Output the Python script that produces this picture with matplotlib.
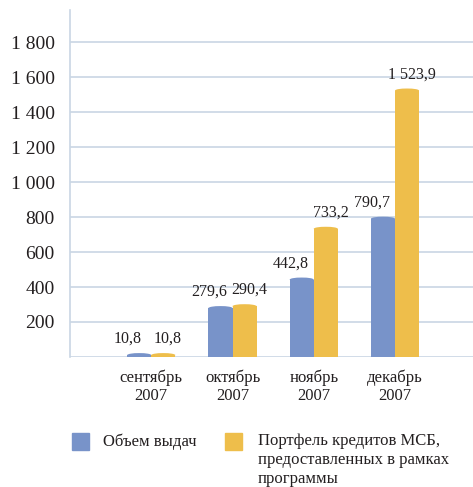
import numpy as np
import matplotlib
matplotlib.use("Agg")
import matplotlib.pyplot as plt
from matplotlib.patches import Ellipse, Rectangle

# ── DATA ────────────────────────────────────────────────────────────────────
months    = ["сентябрь\n2007", "октябрь\n2007", "ноябрь\n2007", "декабрь\n2007"]
issued    = [10.8, 279.6, 442.8, 790.7]         # Объем выдач
portfolio = [10.8, 290.4, 733.2, 1523.9]        # Портфель кредитов МСБ
yticks    = [200, 400, 600, 800, 1000, 1200, 1400, 1600, 1800]

BLUE   = "#7893C9"
YELLOW = "#EEBE4B"
GRID   = "#C9D6E4"
TXT    = "#231F20"

plt.rcParams["font.family"] = ["Liberation Serif", "DejaVu Serif"]

def fmt(v):
    return f"{v:,.1f}".replace(",", " ").replace(".", ",")

# ── PLOT ────────────────────────────────────────────────────────────────────
fig = plt.figure(figsize=(4.73, 4.87), dpi=100)
ax = fig.add_axes([0.148, 0.267, 0.852, 0.712])

x = np.arange(len(months))
w = 0.296
px = 200 / 35.0          # data units per pixel (y)

for vals, off, col, dx in [(issued, -w / 2, BLUE, -8), (portfolio, w / 2, YELLOW, 3.5)]:
    ax.bar(x + off, vals, width=w, color=col, zorder=3)
    for xi, v in zip(x + off, vals):
        ax.add_patch(Ellipse((xi, v), w, 4 * px, color=col, zorder=3, lw=0))
        ax.annotate(fmt(v), (xi, v), xytext=(dx, 6), textcoords="offset points",
                    ha="center", va="bottom", fontsize=11.5, color=TXT)

ax.set_xlim(-1.0, 3.96)
ax.set_ylim(0, 1983)
ax.set_yticks(yticks)
ax.set_yticklabels([f"{t:,}".replace(",", " ") for t in yticks], fontsize=14, color=TXT)
ax.set_xticks(x)
ax.set_xticklabels(months, fontsize=12, color=TXT, linespacing=1.2)
ax.tick_params(axis="both", length=0)
ax.tick_params(axis="y", pad=11)
ax.tick_params(axis="x", pad=9)
ax.yaxis.grid(True, color=GRID, lw=1.2, zorder=0)
ax.axhline(0, color=GRID, lw=1.2, zorder=1)
for s in ["top", "right", "bottom"]:
    ax.spines[s].set_visible(False)
ax.spines["left"].set_color(GRID)
ax.spines["left"].set_linewidth(1.2)

# ── LEGEND (manual) ─────────────────────────────────────────────────────────
W, H = 473, 487
fig.patches.append(Rectangle((72 / W, 1 - 450 / H), 17 / W, 17 / H, color=BLUE,
                             transform=fig.transFigure, figure=fig))
fig.patches.append(Rectangle((225 / W, 1 - 450 / H), 17 / W, 17 / H, color=YELLOW,
                             transform=fig.transFigure, figure=fig))
fig.text(103 / W, 1 - 442 / H, "Объем выдач", fontsize=12, color=TXT, va="center")
fig.text(258 / W, 1 - 433 / H,
         "Портфель кредитов МСБ,\nпредоставленных в рамках\nпрограммы",
         fontsize=12, color=TXT, va="top", linespacing=1.25)

fig.savefig("out.png", dpi=100)
